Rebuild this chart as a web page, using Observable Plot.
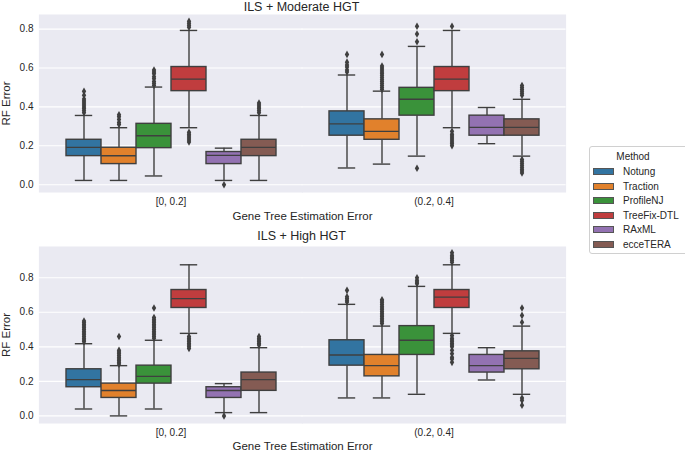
<!DOCTYPE html>
<html><head><meta charset="utf-8">
<script src="https://cdn.jsdelivr.net/npm/d3@7"></script>
<script src="https://cdn.jsdelivr.net/npm/@observablehq/plot@0.6"></script>
<style>
body{margin:0;font-family:"Liberation Sans",Arial,sans-serif;background:#fff;}
#root{position:relative;width:685px;height:450px;overflow:hidden;background:#fff}
.title{position:absolute;left:0;width:603px;text-align:center;font-size:12.5px;line-height:14px;color:#262626}
.panel{position:absolute;left:0}
.legend{position:absolute;left:589px;top:146px;width:100px;height:108px;border:1px solid #d0d0d0;border-radius:3px;background:#fff;box-sizing:border-box;padding-top:3px;font-size:10px;color:#262626}
.legend .lt{text-align:center;line-height:14.5px;padding-right:12px}
.legend .item{display:flex;align-items:center;height:14.5px;padding-left:3px}
.legend .sw{width:21px;height:7px;box-sizing:border-box;border:1px solid #555;margin-right:9px}
</style></head><body><div id="root"></div>
<script>
const methods = ["Notung", "Traction", "ProfileNJ", "TreeFix-DTL", "RAxML", "ecceTERA"];
const groups = ["[0, 0.2]", "(0.2, 0.4]"];
const colors = ["#3274a1", "#e1812c", "#3a923a", "#c03d3e", "#9372b2", "#845b53"];
const yTicks = [0, 0.2, 0.4, 0.6, 0.8];

// [lower whisker, Q1, median, Q3, upper whisker] per method
const modLowStats = [
  [0.022, 0.147, 0.192, 0.231, 0.356],
  [0.022, 0.106, 0.149, 0.190, 0.293],
  [0.045, 0.188, 0.252, 0.313, 0.502],
  [0.293, 0.481, 0.543, 0.605, 0.793],
  [0.022, 0.106, 0.151, 0.168, 0.188],
  [0.022, 0.147, 0.192, 0.231, 0.356]
];
const modHighStats = [
  [0.086, 0.252, 0.313, 0.377, 0.564],
  [0.106, 0.231, 0.274, 0.336, 0.481],
  [0.147, 0.355, 0.439, 0.498, 0.711],
  [0.293, 0.481, 0.543, 0.605, 0.793],
  [0.211, 0.252, 0.295, 0.355, 0.397],
  [0.147, 0.252, 0.295, 0.336, 0.439]
];
const highLowStats = [
  [0.040, 0.166, 0.210, 0.270, 0.418],
  [0.000, 0.104, 0.147, 0.187, 0.291],
  [0.040, 0.187, 0.229, 0.291, 0.438],
  [0.478, 0.625, 0.679, 0.729, 0.875],
  [0.019, 0.104, 0.147, 0.166, 0.187],
  [0.019, 0.145, 0.210, 0.251, 0.395]
];
const highHighStats = [
  [0.104, 0.291, 0.353, 0.438, 0.646],
  [0.104, 0.229, 0.291, 0.353, 0.520],
  [0.125, 0.353, 0.438, 0.520, 0.750],
  [0.478, 0.625, 0.688, 0.729, 0.875],
  [0.208, 0.251, 0.291, 0.353, 0.395],
  [0.125, 0.270, 0.333, 0.374, 0.520]
];

// outliers per method
const modLowOut = [
  [0.37, 0.38, 0.39, 0.40, 0.41, 0.42, 0.43, 0.44, 0.46, 0.48],
  [0.31, 0.32, 0.335, 0.35, 0.36],
  [0.51, 0.52, 0.53, 0.545, 0.555, 0.57, 0.58, 0.59],
  [0.22, 0.23, 0.24, 0.25, 0.26, 0.27, 0.81, 0.82, 0.83, 0.84],
  [0.0],
  [0.37, 0.38, 0.39, 0.40, 0.41, 0.42]
];
const modHighOut = [
  [0.58, 0.59, 0.605, 0.615, 0.63, 0.67],
  [0.49, 0.50, 0.51, 0.52, 0.53, 0.54, 0.55, 0.56, 0.57, 0.58, 0.59, 0.60, 0.61, 0.67],
  [0.085, 0.735, 0.775, 0.815],
  [0.20, 0.21, 0.22, 0.23, 0.24, 0.25, 0.26, 0.275, 0.815],
  [],
  [0.06, 0.07, 0.08, 0.09, 0.10, 0.11, 0.12, 0.13, 0.46, 0.47, 0.48, 0.49, 0.50, 0.51]
];
const highLowOut = [
  [0.43, 0.44, 0.45, 0.46, 0.47, 0.48, 0.49, 0.50, 0.51, 0.52, 0.53, 0.54, 0.55],
  [0.30, 0.31, 0.32, 0.33, 0.34, 0.35, 0.36, 0.37, 0.38, 0.46],
  [0.45, 0.46, 0.47, 0.48, 0.49, 0.50, 0.51, 0.52, 0.53, 0.54, 0.55, 0.56, 0.57, 0.625],
  [0.39, 0.40, 0.41, 0.42, 0.43, 0.44, 0.45, 0.46],
  [0.0],
  [0.41, 0.42, 0.43, 0.44, 0.45, 0.46]
];
const highHighOut = [
  [0.66, 0.67, 0.68, 0.69, 0.727],
  [0.535, 0.545, 0.555, 0.565, 0.575, 0.585, 0.595, 0.605, 0.615, 0.625, 0.635, 0.645, 0.655, 0.665, 0.673],
  [0.765, 0.775, 0.785, 0.80],
  [0.31, 0.33, 0.34, 0.36, 0.38, 0.40, 0.41, 0.42, 0.43, 0.44, 0.45, 0.465, 0.89, 0.90, 0.91, 0.92, 0.93, 0.945],
  [],
  [0.062, 0.09, 0.104, 0.542, 0.582, 0.625]
];

const gray = "#3f3f3f";
const lw = 1.4;

function toRows(group, stats) {
  return stats.map((s, i) => ({group, method: methods[i], lo: s[0], q1: s[1], med: s[2], q3: s[3], hi: s[4]}));
}
function toOut(group, outs) {
  return outs.flatMap((arr, i) => arr.map(v => ({group, method: methods[i], y: v})));
}

function panel(rows, outs, yDomain, height, mt, mb, xLabelOffset) {
  const svg = Plot.plot({
    width: 685, height,
    marginLeft: 38, marginRight: 120, marginTop: mt, marginBottom: mb,
    style: {fontFamily: "Liberation Sans, Arial, sans-serif", fontSize: "10px", color: "#262626", background: "transparent", overflow: "visible"},
    fx: {domain: groups, padding: 0, label: "Gene Tree Estimation Error", labelAnchor: "center", labelOffset: xLabelOffset, tickSize: 0, tickPadding: 5, axis: "bottom"},
    x: {domain: methods, paddingInner: 0, paddingOuter: 0.75, axis: null},
    y: {domain: yDomain, ticks: 5, tickFormat: ".1f", tickSize: 0, tickPadding: 6, label: "RF Error", labelAnchor: "center", labelArrow: "none", labelOffset: 38},
    color: {domain: methods, range: colors},
    marks: [
      Plot.frame({fill: "#eaeaf2", stroke: null, insetLeft: -0.6, insetRight: -0.6}),
      Plot.gridY(yTicks, {stroke: "#ffffff", strokeOpacity: 1, strokeWidth: 1.1, insetLeft: -0.6, insetRight: -0.6}),
      Plot.ruleX(rows, {fx: "group", x: "method", y1: "lo", y2: "q1", stroke: gray, strokeWidth: lw}),
      Plot.ruleX(rows, {fx: "group", x: "method", y1: "q3", y2: "hi", stroke: gray, strokeWidth: lw}),
      Plot.tickY(rows, {fx: "group", x: "method", y: "lo", stroke: gray, strokeWidth: lw, insetLeft: 8.8, insetRight: 8.8}),
      Plot.tickY(rows, {fx: "group", x: "method", y: "hi", stroke: gray, strokeWidth: lw, insetLeft: 8.8, insetRight: 8.8}),
      Plot.barY(rows, {fx: "group", x: "method", y1: "q1", y2: "q3", fill: "method", stroke: gray, strokeWidth: lw}),
      Plot.tickY(rows, {fx: "group", x: "method", y: "med", stroke: gray, strokeWidth: lw}),
      Plot.dot(outs, {fx: "group", x: "method", y: "y", symbol: "diamond", r: 2.3, fill: gray, stroke: null})
    ]
  });
  const s = d3.select(svg);
  s.selectAll('g[aria-label$="axis label"]').attr("font-size", 11.5);
  s.selectAll('g[aria-label$="axis label"] text').each(function() {
    this.textContent = this.textContent.replace(/[\u2191\u2193\u2190\u2192]/g, "").trim();
  });
  return svg;
}

const root = document.getElementById("root");

const rowsTop = [...toRows(groups[0], modLowStats), ...toRows(groups[1], modHighStats)];
const outsTop = [...toOut(groups[0], modLowOut), ...toOut(groups[1], modHighOut)];
const rowsBot = [...toRows(groups[0], highLowStats), ...toRows(groups[1], highHighStats)];
const outsBot = [...toOut(groups[0], highLowOut), ...toOut(groups[1], highHighOut)];

const p1 = panel(rowsTop, outsTop, [-0.04, 0.875], 225, 14, 33, 27);
p1.classList.add("panel"); p1.style.top = "0px";
root.appendChild(p1);

const p2 = panel(rowsBot, outsBot, [-0.044, 0.981], 228, 24, 27, 26);
p2.classList.add("panel"); p2.style.top = "222px";
root.appendChild(p2);

const t1 = document.createElement("div");
t1.className = "title"; t1.style.top = "0px"; t1.textContent = "ILS + Moderate HGT";
root.appendChild(t1);
const t2 = document.createElement("div");
t2.className = "title"; t2.style.top = "229px"; t2.textContent = "ILS + High HGT";
root.appendChild(t2);

const colorScale = p1.scale("color");
const leg = document.createElement("div");
leg.className = "legend";
const lt = document.createElement("div");
lt.className = "lt"; lt.textContent = "Method";
leg.appendChild(lt);
for (const m of colorScale.domain) {
  const item = document.createElement("div");
  item.className = "item";
  const sw = document.createElement("span");
  sw.className = "sw"; sw.style.background = colorScale.apply(m);
  const lab = document.createElement("span");
  lab.textContent = m;
  item.appendChild(sw); item.appendChild(lab);
  leg.appendChild(item);
}
root.appendChild(leg);
</script>
</body></html>
